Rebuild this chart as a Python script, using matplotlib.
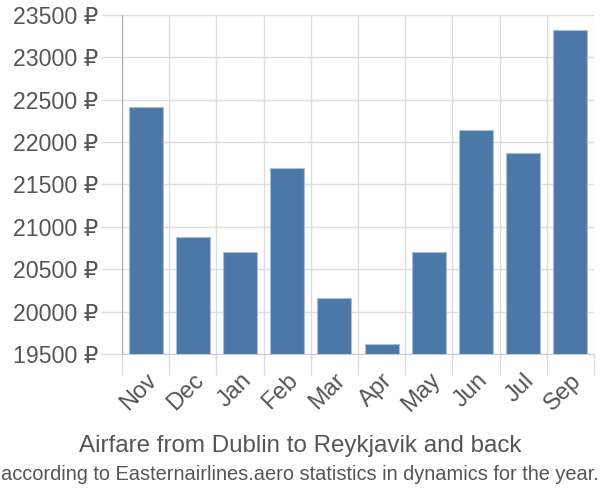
import matplotlib
matplotlib.use("Agg")
import matplotlib.pyplot as plt
import numpy as np

months = ["Nov", "Dec", "Jan", "Feb", "Mar", "Apr", "May", "Jun", "Jul", "Sep"]
prices = [22420, 20880, 20700, 21695, 20160, 19620, 20700, 22145, 21870, 23320]
yticks = [19500, 20000, 20500, 21000, 21500, 22000, 22500, 23000, 23500]

FONT = ["Liberation Sans", "DejaVu Sans"]
plt.rcParams["font.family"] = FONT
grey = "#555555"

fig = plt.figure(figsize=(6, 5), dpi=100)
ax = fig.add_axes([122/600, 1-354/500, (594-122)/600, (354-15)/500])

x = np.arange(len(months))
ax.bar(x, prices, width=0.72, color="#4c78a8", edgecolor="#a7bcd6", linewidth=0.8, zorder=3)

ax.set_xlim(-0.5, len(months) - 0.5)
ax.set_ylim(yticks[0], yticks[-1])
ax.set_yticks(yticks)
ax.set_yticklabels([f"{v} ₽" for v in yticks], fontsize=16.7, color=grey)
ax.set_xticks(x)
ax.set_xticklabels(months, rotation=45, ha="right", rotation_mode="anchor", fontsize=17, color=grey)
ax.set_xticks(np.arange(-0.5, len(months)), minor=True)

ax.tick_params(axis="x", which="major", length=0, pad=11)
ax.tick_params(axis="x", which="minor", length=15, color="#dddddd", width=1)
ax.tick_params(axis="y", length=15, color="#dddddd", width=1, pad=2)

ax.grid(axis="y", color="#dddddd", linewidth=1, zorder=0)
ax.grid(axis="x", which="minor", color="#dddddd", linewidth=1, zorder=0)

for s in ["top", "right"]:
    ax.spines[s].set_visible(False)
ax.spines["left"].set_color("#aaaaaa")
ax.spines["bottom"].set_color("#cccccc")

fig.text(0.5, 1-446/500, "Airfare from Dublin to Reykjavik and back", ha="center", va="center", fontsize=17.4, color=grey)
fig.text(0.5, 1-475/500, "according to Easternairlines.aero statistics in dynamics for the year.", ha="center", va="center", fontsize=14.4, color=grey)

fig.savefig("out.png", dpi=100)
